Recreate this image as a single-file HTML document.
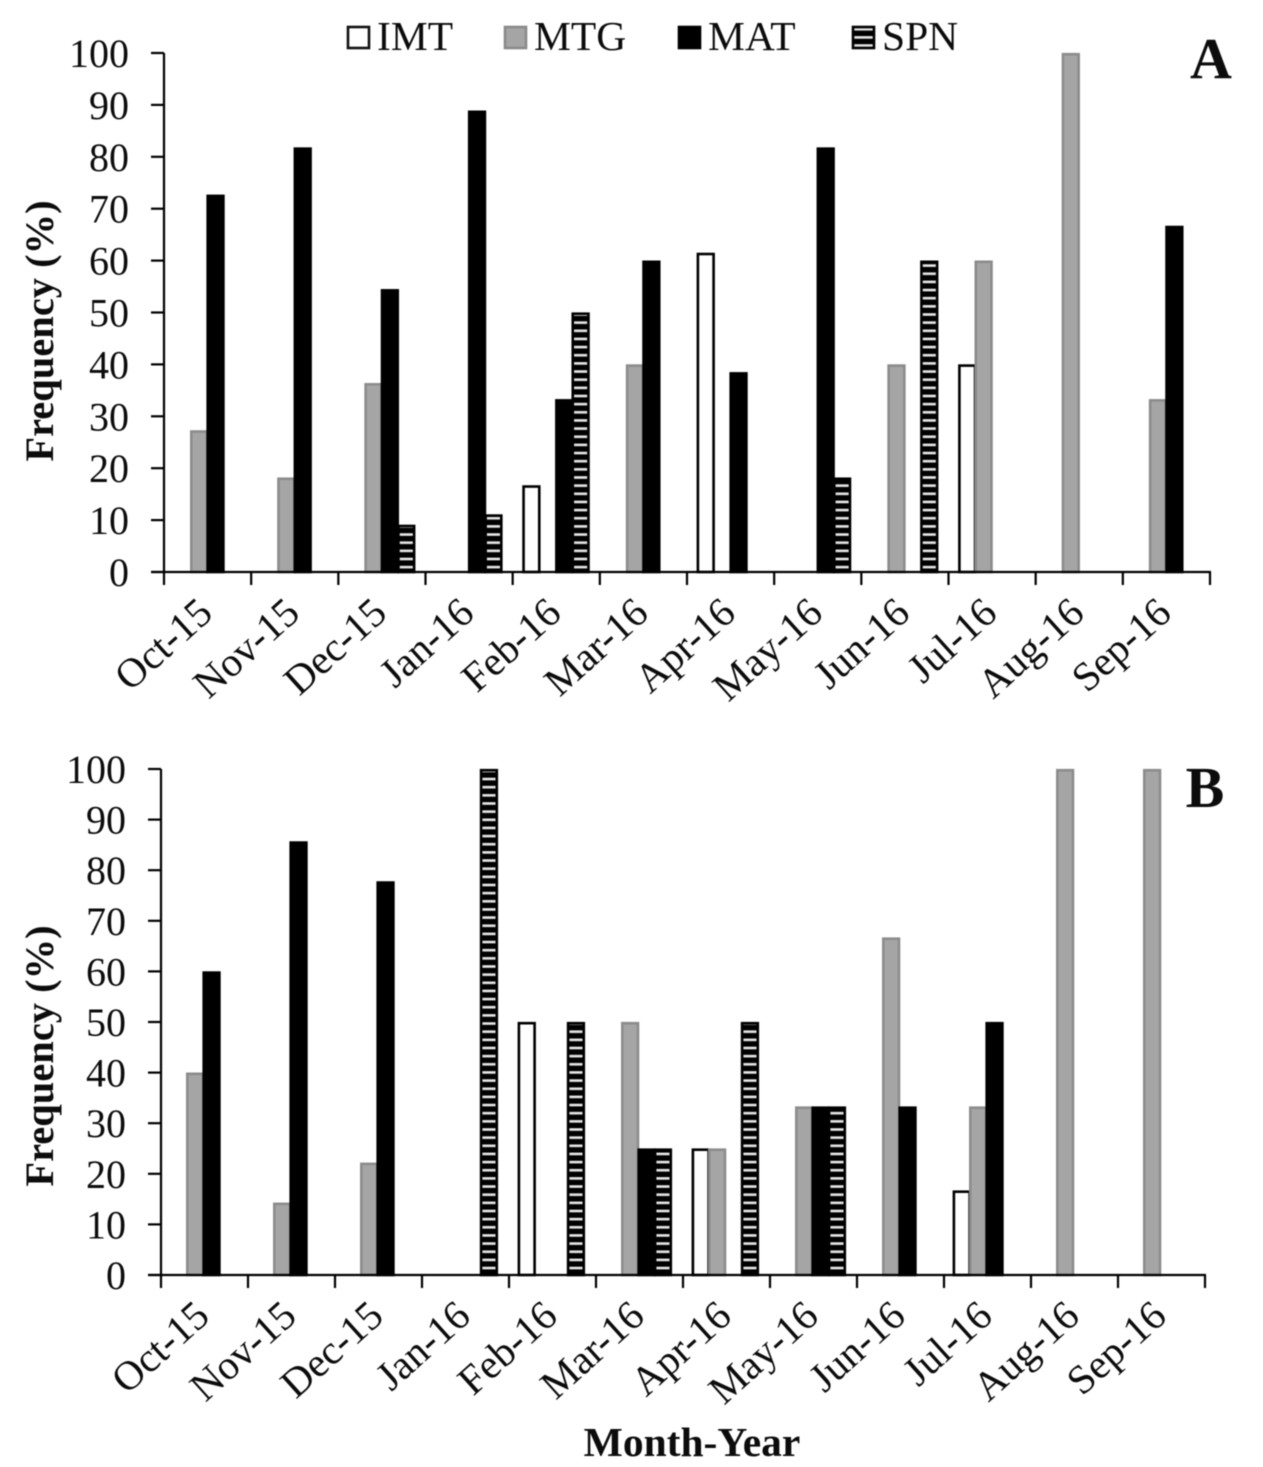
<!DOCTYPE html>
<html lang="en">
<head>
<meta charset="utf-8">
<title>Frequency by month</title>
<style>
html,body{margin:0;padding:0;background:#fff;}
svg{display:block;filter:blur(0.6px);}
text{font-family:"Liberation Serif",serif;fill:#0c0c0c;}
</style>
</head>
<body>
<svg id="chart" xmlns="http://www.w3.org/2000/svg" width="1263" height="1467" viewBox="0 0 1263 1467">
  <defs>
    <pattern id="stripes" patternUnits="userSpaceOnUse" width="8" height="8.15" y="0.5">
      <rect x="0" y="0" width="8" height="8.15" fill="#000"></rect>
      <rect x="0" y="3" width="8" height="2.6" fill="#e8e8e8"></rect>
    </pattern>
  </defs>
  <g id="legend">
    <g>
      <rect x="348" y="27" width="21" height="21" fill="#fff" stroke="#111" stroke-width="2.6"></rect>
      <text x="377" y="50" font-size="41.5">IMT</text>
    </g>
    <g>
      <rect x="505" y="27" width="21" height="21" fill="#a5a5a5" stroke="#8a8a8a" stroke-width="2.6"></rect>
      <text x="534" y="50" font-size="41.5">MTG</text>
    </g>
    <g>
      <rect x="679" y="27" width="21" height="21" fill="#000" stroke="#000" stroke-width="2.6"></rect>
      <text x="708" y="50" font-size="41.5">MAT</text>
    </g>
    <g>
      <rect x="853" y="27" width="21" height="21" fill="url(#stripes)" stroke="#000" stroke-width="2.6"></rect>
      <text x="882" y="50" font-size="41.5">SPN</text>
    </g>
  </g>
  <text x="1211" y="78" font-size="58" font-weight="bold" text-anchor="middle">A</text>
  <text x="1205" y="807" font-size="58" font-weight="bold" text-anchor="middle">B</text>
  <text x="692" y="1456" font-size="41.5" font-weight="bold" text-anchor="middle">Month-Year</text>
</svg>
<script>
var categories = ["Oct-15","Nov-15","Dec-15","Jan-16","Feb-16","Mar-16","Apr-16","May-16","Jun-16","Jul-16","Aug-16","Sep-16"];
var yTicks = [0,10,20,30,40,50,60,70,80,90,100];

var imtA = [0,0,0,0,16.7,0,61.5,0,0,40,0,0];
var mtgA = [27.3,18.2,36.4,0,0,40,0,0,40,60,100,33.3];
var matA = [72.7,81.8,54.5,88.9,33.3,60,38.5,81.8,0,0,0,66.7];
var spnA = [0,0,9.1,11.1,50,0,0,18.2,60,0,0,0];

var imtB = [0,0,0,0,50,0,25,0,0,16.7,0,0];
var mtgB = [40,14.3,22.2,0,0,50,25,33.3,66.7,33.3,100,100];
var matB = [60,85.7,77.8,0,0,25,0,33.3,33.3,50,0,0];
var spnB = [0,0,0,100,50,25,50,33.3,0,0,0,0];

var NS = "http://www.w3.org/2000/svg";
var svg = document.getElementById("chart");

function make(tag, attrs, parent) {
  var el = document.createElementNS(NS, tag);
  for (var k in attrs) { el.setAttribute(k, attrs[k]); }
  parent.appendChild(el);
  return el;
}

function drawPanel(panelName, frame, seriesList) {
  var g = make("g", {}, svg);
  
  

  var step = (frame.x1 - frame.x0) / categories.length;
  function xScale(i) { return frame.x0 + i * step; }
  function yScale(v) { return frame.y0 + (frame.y100 - frame.y0) * v / 100; }

  var barW = 16.4;
  var offsets = [frame.first, frame.first + barW, frame.first + 2 * barW, frame.first + 3 * barW];
  var seriesNames = ["imt","mtg","mat","spn"];
  var fills = ["#fff","#a5a5a5","#000","url(#stripes)"];
  var strokes = ["#000","#8c8c8c","#000","#000"];

  seriesList.forEach(function (values, s) {
    values.forEach(function (v, i) {
      if (!v) { return; }
      var top = yScale(v);
      var bar = make("rect", {
        x: xScale(i) + offsets[s] + 0.9,
        y: top + 1.2,
        width: barW - 0.7,
        height: frame.y0 - top - 1.2,
        fill: fills[s],
        stroke: strokes[s],
        "stroke-width": 2.6
      }, g);
      
      
    });
  });

  var yAxis = make("line", {x1: frame.x0, x2: frame.x0, y1: frame.y100, y2: frame.y0, stroke: "#000", "stroke-width": 2.2}, g);
  
  

  var xAxis = make("line", {x1: frame.x0 - 13, x2: frame.x1 + 1, y1: frame.y0, y2: frame.y0, stroke: "#000", "stroke-width": 2.2}, g);
  
  

  yTicks.forEach(function (t) {
    var y = yScale(t);
    var tick = make("line", {x1: frame.x0 - 13, x2: frame.x0, y1: y, y2: y, stroke: "#000", "stroke-width": 2.2}, g);
    
    
    var label = make("text", {x: frame.x0 - 35, y: y + 14, "font-size": 40, "text-anchor": "end"}, g);
    label.textContent = String(t);
    
    
  });

  for (var i = 0; i <= categories.length; i++) {
    var tx = xScale(i);
    var xt = make("line", {x1: tx, x2: tx, y1: frame.y0, y2: frame.y0 + 13, stroke: "#000", "stroke-width": 2.2}, g);
    
    
  }

  categories.forEach(function (c, i) {
    var cx = xScale(i) + step / 2 + 7;
    var cy = frame.y0 + 44;
    var label = make("text", {
      x: cx, y: cy, "font-size": 41, "text-anchor": "end",
      transform: "rotate(-42 " + cx + " " + cy + ")"
    }, g);
    label.textContent = c;
    
    
  });

  var titleX = 53;
  var titleY = frame.titleY;
  var title = make("text", {
    x: titleX, y: titleY, "font-size": 40.5, "font-weight": "bold", "text-anchor": "middle",
    transform: "rotate(-90 " + titleX + " " + titleY + ")"
  }, g);
  title.textContent = "Frequency (%)";
  
  
}

drawPanel("panel-a", {x0: 164, x1: 1210, y0: 572, y100: 53, first: 10, titleY: 331}, [imtA, mtgA, matA, spnA]);
drawPanel("panel-b", {x0: 161, x1: 1205, y0: 1275, y100: 769, first: 9, titleY: 1056}, [imtB, mtgB, matB, spnB]);
</script>
</body>
</html>
